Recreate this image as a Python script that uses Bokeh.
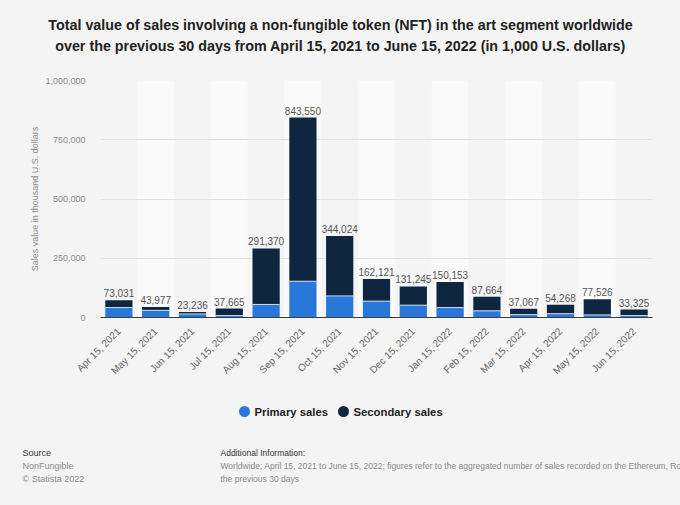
import math
from bokeh.plotting import figure
from bokeh.layouts import column
from bokeh.models import Range1d, FactorRange, FixedTicker, NumeralTickFormatter, ColumnDataSource
from bokeh.transform import dodge
from bokeh.core.properties import value
from bokeh.embed import file_html
from bokeh.resources import INLINE

dates = ["Apr 15, 2021", "May 15, 2021", "Jun 15, 2021", "Jul 15, 2021", "Aug 15, 2021",
         "Sep 15, 2021", "Oct 15, 2021", "Nov 15, 2021", "Dec 15, 2021", "Jan 15, 2022",
         "Feb 15, 2022", "Mar 15, 2022", "Apr 15, 2022", "May 15, 2022", "Jun 15, 2022"]
totals = [73031, 43977, 23236, 37665, 291370, 843550, 344024, 162121, 131245, 150153,
          87664, 37067, 54268, 77526, 33325]
primary = [42000, 30000, 15000, 8000, 55000, 153000, 91000, 69000, 52000, 42000,
           28000, 12000, 16000, 11000, 8000]
secondary = [t - p for t, p in zip(totals, primary)]
y_ticks = [0, 250000, 500000, 750000, 1000000]
series_names = ["Primary sales", "Secondary sales"]
title_lines = [
    "Total value of sales involving a non-fungible token (NFT) in the art segment worldwide",
    "over the previous 30 days from April 15, 2021 to June 15, 2022 (in 1,000 U.S. dollars)",
]
y_label = "Sales value in thousand U.S. dollars"
source_lines = ["Source", "NonFungible", "\u00a9 Statista 2022"]
info_lines = [
    "Additional Information:",
    "Worldwide; April 15, 2021 to June 15, 2022; figures refer to the aggregated number of sales recorded on the Ethereum, Ronin",
    "the previous 30 days",
]

BLUE = "#2a77dc"
NAVY = "#0f2640"
BG = "#f4f4f4"
FONT = "Liberation Sans"
W = 680


def blank(h):
    f = figure(width=W, height=h, x_range=Range1d(0, W), y_range=Range1d(h, 0),
               output_backend="svg", toolbar_location=None, x_axis_type=None, y_axis_type=None,
               min_border=0, background_fill_color=BG, border_fill_color=BG,
               outline_line_color=None, frame_align=False,
               styles={"background-color": BG})
    f.grid.visible = False
    return f


# ---------- header ----------
head = blank(62)
head.text(x=[340, 340], y=[24, 45], text=title_lines, text_align="center",
          text_baseline="middle", text_font=value(FONT), text_font_size="14.3px",
          text_font_style="bold", text_color="#222222")

# ---------- main chart ----------
src = ColumnDataSource(dict(
    date=dates,
    primary=primary,
    total=totals,
    secondary=secondary,
    label=[f"{v:,}" for v in totals],
    band=[1000000 if i % 2 == 1 else 0 for i in range(len(dates))],
))

p = figure(width=W, height=328,
           x_range=FactorRange(*dates), y_range=Range1d(0, 1000000),
           output_backend="svg", toolbar_location=None, frame_align=False,
           min_border_left=100, min_border_right=28, min_border_top=18, min_border_bottom=73,
           background_fill_color=BG, border_fill_color=BG, outline_line_color=None,
           styles={"background-color": BG})

p.vbar(x="date", top="band", width=1.0, source=src, fill_color="#fafafa",
       line_color=None, level="image")
p.vbar(x="date", top="primary", bottom=0, width=0.74, source=src,
       fill_color=BLUE, line_color=None)
p.vbar(x="date", top="total", bottom="primary", width=0.74, source=src,
       fill_color=NAVY, line_color=None)
p.segment(x0=dodge("date", -0.37, range=p.x_range), x1=dodge("date", 0.37, range=p.x_range),
          y0="primary", y1="primary", source=src, line_color="#c9dcf3", line_width=1)
p.text(x="date", y="total", text="label", source=src, text_align="center",
       text_baseline="bottom", y_offset=-3, text_font=value(FONT),
       text_font_size="10px", text_color="#555555")

p.yaxis.ticker = FixedTicker(ticks=y_ticks)
p.yaxis.formatter = NumeralTickFormatter(format="0,0")
p.yaxis.axis_line_color = None
p.yaxis.major_tick_line_color = None
p.yaxis.minor_tick_line_color = None
p.yaxis.major_label_text_font = FONT
p.yaxis.major_label_text_font_size = "9px"
p.yaxis.major_label_text_color = "#8c8c8c"
p.yaxis.major_label_standoff = 9
p.yaxis.axis_label = y_label
p.yaxis.axis_label_text_font = FONT
p.yaxis.axis_label_text_font_size = "9px"
p.yaxis.axis_label_text_font_style = "normal"
p.yaxis.axis_label_text_color = "#8c8c8c"
p.yaxis.axis_label_standoff = 2

p.xaxis.axis_line_color = "#3a3a3a"
p.xaxis.axis_line_width = 1
p.xaxis.major_tick_line_color = None
p.xaxis.minor_tick_line_color = None
p.xaxis.major_label_orientation = math.pi / 4
p.xaxis.major_label_text_font = FONT
p.xaxis.major_label_text_font_size = "10px"
p.xaxis.major_label_text_color = "#666666"
p.xaxis.major_label_standoff = 6

p.xgrid.grid_line_color = None
p.ygrid.grid_line_color = "#e2e2e2"
p.ygrid.grid_line_width = 1

# ---------- footer: legend + notes ----------
foot = blank(115)
foot.scatter(x=[244, 343], y=[21, 21], marker="circle", size=11,
             fill_color=[BLUE, NAVY], line_color=None)
foot.text(x=[254, 353], y=[21, 21], text=series_names, text_align="left",
          text_baseline="middle", text_font=value(FONT), text_font_size="11.3px",
          text_font_style="bold", text_color="#222222")
foot.text(x=[22, 22, 22], y=[62, 75, 88], text=source_lines, text_align="left",
          text_baseline="middle", text_font=value(FONT), text_font_size="9px",
          text_color=["#333333", "#8a8a8a", "#8a8a8a"])
foot.text(x=[220, 220, 220], y=[62, 75, 88], text=info_lines, text_align="left",
          text_baseline="middle", text_font=value(FONT), text_font_size="8.5px",
          text_color=["#333333", "#8a8a8a", "#8a8a8a"])

layout = column(head, p, foot, spacing=0, styles={"background-color": BG})
open("out.html", "w").write(file_html(layout, INLINE))
